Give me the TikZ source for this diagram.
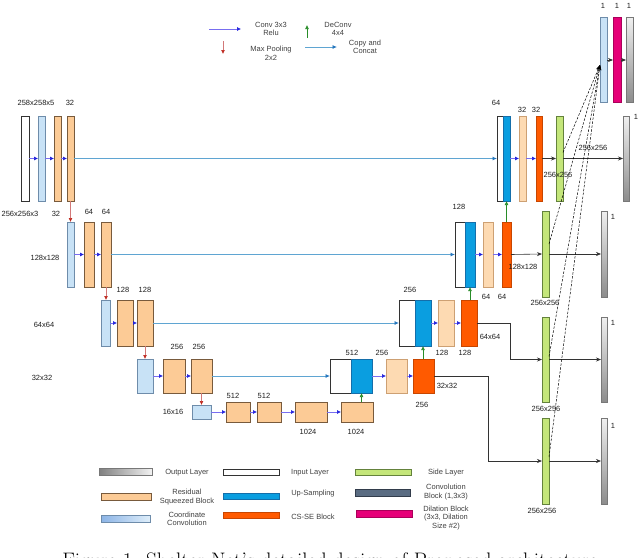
\documentclass[tikz,border=0pt]{standalone}
\usepackage{fontspec}
\newfontfamily\labfont{Liberation Sans}
\usetikzlibrary{arrows.meta,calc}
\definecolor{resfill}{RGB}{252,203,150}
\definecolor{resdraw}{RGB}{120,90,60}
\definecolor{lresfill}{RGB}{253,218,178}
\definecolor{lresdraw}{RGB}{205,160,115}
\definecolor{ccfill}{RGB}{200,226,246}
\definecolor{ccdark}{RGB}{140,180,230}
\definecolor{ccdraw}{RGB}{110,140,170}
\definecolor{upsfill}{RGB}{10,158,224}
\definecolor{upsdraw}{RGB}{20,110,170}
\definecolor{csfill}{RGB}{255,90,0}
\definecolor{csdraw}{RGB}{200,70,0}
\definecolor{sidefill}{RGB}{196,230,122}
\definecolor{sidedraw}{RGB}{100,130,60}
\definecolor{outdraw}{RGB}{120,120,120}
\definecolor{dilfill}{RGB}{230,0,120}
\definecolor{dildraw}{RGB}{170,0,90}
\definecolor{convfill}{RGB}{90,108,130}
\definecolor{convdraw}{RGB}{50,60,75}
\definecolor{convline}{RGB}{120,110,240}
\definecolor{convtip}{RGB}{30,30,220}
\definecolor{poolline}{RGB}{210,120,120}
\definecolor{pooltip}{RGB}{190,40,30}
\definecolor{deconvc}{RGB}{40,140,40}
\definecolor{copyline}{RGB}{95,165,210}
\definecolor{copytip}{RGB}{40,120,190}
\definecolor{labcol}{RGB}{30,30,30}
\newcommand{\blk}[6]{\node[#2, minimum width={(#5-#3)*1pt}, minimum height={(#6-#4)*1pt}] (#1) at (#3,#4) {};}
\begin{document}
\begin{tikzpicture}[x=1pt,y=-1pt,
  bx/.style={draw, inner sep=0pt, outer sep=0pt, anchor=north west, line width=0.6pt},
  res/.style={bx, fill=resfill, draw=resdraw},
  lres/.style={bx, fill=lresfill, draw=lresdraw},
  coordb/.style={bx, fill=ccfill, draw=ccdraw},
  inpb/.style={bx, fill=white, draw=black!80},
  ups/.style={bx, fill=upsfill, draw=upsdraw},
  csse/.style={bx, fill=csfill, draw=csdraw},
  sideb/.style={bx, fill=sidefill, draw=sidedraw},
  outb/.style={bx, draw=outdraw, top color=black!6, bottom color=black!45},
  legout/.style={bx, draw=outdraw, left color=black!50, right color=black!5},
  legcc/.style={bx, draw=ccdraw, left color=ccdark, right color=ccfill!60},
  dil/.style={bx, fill=dilfill, draw=dildraw},
  convb/.style={bx, fill=convfill, draw=convdraw},
  lab/.style={font=\labfont\fontsize{7.5}{8.6}\selectfont, inner sep=0pt, text=labcol, align=center},
  leg/.style={lab, text=black!75},
  conv/.style={draw=convline, line width=0.6pt, -{Latex[length=4pt,width=4pt,color=convtip]}},
  pool/.style={draw=poolline, line width=0.7pt, -{Latex[length=4pt,width=4pt,color=pooltip]}},
  deconv/.style={draw=deconvc, line width=0.7pt, -{Latex[length=4pt,width=4pt,color=deconvc]}},
  copyc/.style={draw=copyline, line width=0.8pt, -{Latex[length=4.5pt,width=4pt,color=copytip]}},
  outc/.style={draw=black!80, line width=0.6pt, -{Stealth[length=5pt,width=4pt]}},
  dashl/.style={draw=black, line width=0.5pt, dash pattern=on 2.5pt off 1.5pt, -{Stealth[length=5pt,width=4pt]}}
]
\useasboundingbox (0,0) rectangle (640,557);

% ---------- encoder ----------
\blk{inp}{inpb}{21}{116}{29}{201}
\blk{cc1}{coordb}{38}{116}{45}{201}
\blk{r1a}{res}{54}{116}{61}{201}
\blk{r1b}{res}{67}{116}{74}{201}
\blk{cc2}{coordb}{67}{222}{74}{287}
\blk{r2a}{res}{84}{222}{94}{287}
\blk{r2b}{res}{101}{222}{111}{287}
\blk{cc3}{coordb}{101}{300}{110}{346}
\blk{r3a}{res}{117}{300}{133}{346}
\blk{r3b}{res}{137}{300}{153}{346}
\blk{cc4}{coordb}{137}{359}{153}{393}
\blk{r4a}{res}{163}{359}{185}{393}
\blk{r4b}{res}{191}{359}{212}{393}
\blk{cc5}{coordb}{192}{405}{211}{419}
\blk{r5a}{res}{226}{402}{250}{422}
\blk{r5b}{res}{257}{402}{281}{422}
\blk{r5c}{res}{295}{402}{327}{422}
\blk{r5d}{res}{341}{402}{373}{422}

% ---------- decoder ----------
\blk{d4w}{inpb}{330}{359}{351}{393}
\blk{d4u}{ups}{351}{359}{372}{393}
\blk{d4r}{lres}{386}{359}{407}{393}
\blk{d4c}{csse}{413}{359}{434}{393}
\blk{d3w}{inpb}{399}{300}{415}{346}
\blk{d3u}{ups}{415}{300}{431}{346}
\blk{d3r}{lres}{438}{300}{454}{346}
\blk{d3c}{csse}{461}{300}{477}{346}
\blk{d2w}{inpb}{455}{222}{465}{287}
\blk{d2u}{ups}{465}{222}{475}{287}
\blk{d2r}{lres}{483}{222}{493}{287}
\blk{d2c}{csse}{502}{222}{511}{287}
\blk{d1w}{inpb}{497}{116}{503}{201}
\blk{d1u}{ups}{503}{116}{510}{201}
\blk{d1r}{lres}{519}{116}{526}{201}
\blk{d1c}{csse}{536}{116}{542}{201}

% ---------- side and output layers ----------
\blk{s0}{sideb}{556}{116}{563}{201}
\blk{s1}{sideb}{542}{211}{549}{297}
\blk{s2}{sideb}{542}{317}{549}{402}
\blk{s3}{sideb}{542}{418}{549}{504}
\blk{o0}{outb}{623}{116}{629}{201}
\blk{o1}{outb}{601}{211}{607}{297}
\blk{o2}{outb}{601}{317}{607}{402}
\blk{o3}{outb}{601}{418}{607}{504}
\blk{fc}{coordb}{600}{17}{607}{102}
\blk{fd}{dil}{613}{17}{621}{102}
\blk{fo}{outb}{626}{17}{633}{102}

% ---------- conv arrows ----------
\foreach \a/\b in {inp/cc1,cc1/r1a,r1a/r1b,cc2/r2a,r2a/r2b,cc3/r3a,r3a/r3b,cc4/r4a,r4a/r4b,
  cc5/r5a,r5a/r5b,r5b/r5c,r5c/r5d,d4u/d4r,d4r/d4c,d3u/d3r,d3r/d3c,d2u/d2r,d2r/d2c,d1u/d1r,d1r/d1c}
  \draw[conv] (\a.east) -- (\b.west);

% ---------- pooling ----------
\draw[pool] (r1b.south) -- (cc2.north);
\draw[pool] (r2b.south) -- (r2b.south |- cc3.north);
\draw[pool] (r3b.south) -- (r3b.south |- cc4.north);
\draw[pool] (r4b.south) -- (r4b.south |- cc5.north);

% ---------- deconv ----------
\draw[deconv] (d4u.south |- r5d.north) -- (d4u.south);
\draw[deconv] (d3u.south |- d4c.north) -- (d3u.south);
\draw[deconv] (d2u.south |- d3c.north) -- (d2u.south);
\draw[deconv] (d1u.south |- d2c.north) -- (d1u.south);

% ---------- copy and concat ----------
\draw[copyc] (r1b.east) -- (d1w.west);
\draw[copyc] (r2b.east) -- (d2w.west);
\draw[copyc] (r3b.east) -- (d3w.west);
\draw[copyc] (r4b.east) -- (d4w.west);

% ---------- outputs ----------
\draw[outc] (d1c.east) -- (s0.west);
\draw[outc] (d2c.east) -- (s1.west);
\draw[outc] (d3c.east) -- ++(33,0) |- (s2.west);
\draw[outc] (d4c.east) -- ++(54,0) |- (s3.west);
\draw[outc] (s0.east) -- (o0.west);
\draw[outc] (s1.east) -- (o1.west);
\draw[outc] (s2.east) -- (o2.west);
\draw[outc] (s3.east) -- (o3.west);
\coordinate (fin) at (600,65);
\draw[dashl] ($(s0.east)+(0,-6)$) -- (fin);
\draw[dashl] ($(s1.east)+(0,-10)$) -- (fin);
\draw[dashl] ($(s2.east)+(0,-3)$) -- (fin);
\draw[dashl] ($(s3.east)+(0,-4)$) -- (fin);
\draw[outc] (fc.east |- 0,60) -- (fd.west |- 0,60);
\draw[outc] (fd.east |- 0,60) -- (fo.west |- 0,60);

% ---------- labels ----------
\node[lab] (l1) at (36,103) {258x258x5};
\node[lab] (l2) at (70,103) {32};
\node[lab] (l3) at (20,214) {256x256x3};
\node[lab] (l4) at (56,214) {32};
\node[lab] (l5) at (89,212) {64};
\node[lab] (l6) at (106,212) {64};
\node[lab] (l7) at (45,258) {128x128};
\node[lab] (l8) at (123,290) {128};
\node[lab] (l9) at (145,290) {128};
\node[lab] (l10) at (44,325) {64x64};
\node[lab] (l11) at (177,347) {256};
\node[lab] (l12) at (199,347) {256};
\node[lab] (l13) at (42,378) {32x32};
\node[lab] (l14) at (173,412) {16x16};
\node[lab] (l15) at (233,396) {512};
\node[lab] (l16) at (264,396) {512};
\node[lab] (l17) at (308,432) {1024};
\node[lab] (l18) at (356,432) {1024};
\node[lab] (l19) at (352,353) {512};
\node[lab] (l20) at (382,353) {256};
\node[lab] (l21) at (447,386) {32x32};
\node[lab] (l22) at (422,405) {256};
\node[lab] (l23) at (410,290) {256};
\node[lab] (l24) at (442,353) {128};
\node[lab] (l25) at (465,353) {128};
\node[lab] (l26) at (490,337) {64x64};
\node[lab] (l27) at (459,207) {128};
\node[lab] (l28) at (486,297) {64};
\node[lab] (l29) at (502,297) {64};
\node[lab] (l30) at (523,267) {128x128};
\node[lab] (l31) at (496,103) {64};
\node[lab] (l32) at (522,110) {32};
\node[lab] (l33) at (536,110) {32};
\node[lab] (l34) at (558,175) {256x256};
\node[lab] (l35) at (593,148) {256x256};
\node[lab] (l36) at (545,303) {256x256};
\node[lab] (l37) at (546,409) {256x256};
\node[lab] (l38) at (542,511) {256x256};
\node[lab] (l39) at (613,217) {1};
\node[lab] (l40) at (613,323) {1};
\node[lab] (l41) at (613,426) {1};
\node[lab] (l42) at (636,117) {1};
\node[lab] (l43) at (603,6) {1};
\node[lab] (l44) at (617,6) {1};
\node[lab] (l45) at (629,6) {1};

% ---------- top legend ----------
\coordinate (ta1) at (209,29); \coordinate (ta2) at (241,29);
\draw[conv] (ta1) -- (ta2);
\node[leg] (t1) at (271,29) {Conv 3x3\\Relu};
\coordinate (tb1) at (223,41); \coordinate (tb2) at (223,54);
\draw[pool] (tb1) -- (tb2);
\node[leg] (t2) at (271,53) {Max Pooling\\2x2};
\coordinate (tc1) at (307,38); \coordinate (tc2) at (307,25);
\draw[deconv] (tc1) -- (tc2);
\node[leg] (t3) at (338,29) {DeConv\\4x4};
\coordinate (td1) at (305,47); \coordinate (td2) at (337,47);
\draw[copyc] (td1) -- (td2);
\node[leg] (t4) at (365,47) {Copy and\\Concat};

% ---------- bottom legend ----------
\blk{lgo}{legout}{99}{468}{152}{475}
\blk{lgr}{res}{101}{493}{151}{500}
\blk{lgc}{legcc}{101}{515}{150}{522}
\blk{lgi}{inpb}{223}{469}{279}{475}
\blk{lgu}{ups}{223}{493}{279}{499}
\blk{lgs}{csse}{223}{512}{279}{518}
\blk{lgg}{sideb}{355}{469}{411}{475}
\blk{lgb}{convb}{355}{489}{410}{496}
\blk{lgd}{dil}{356}{510}{412}{517}
\node[leg] (b1) at (187,473) {Output Layer};
\node[leg] (b2) at (187,497) {Residual\\Squeezed Block};
\node[leg] (b3) at (187,519) {Coordinate\\Convolution};
\node[leg] (b4) at (310,473) {Input Layer};
\node[leg] (b5) at (313,494) {Up-Sampling};
\node[leg] (b6) at (313,517) {CS-SE Block};
\node[leg] (b7) at (446,473) {Side Layer};
\node[leg] (b8) at (446,492) {Convolution\\Block (1,3x3)};
\node[leg] (b9) at (446,518) {Dilation Block\\(3x3, Dilation\\Size \#2)};

% ---------- caption (cut by the page edge, as in the reference) ----------
\node[font=\fontsize{21}{24}\selectfont, anchor=base, inner sep=0pt] (cap) at (330,567)
  {Figure 1: Shelter Net's detailed design of Proposed architecture};
\end{tikzpicture}
\end{document}
